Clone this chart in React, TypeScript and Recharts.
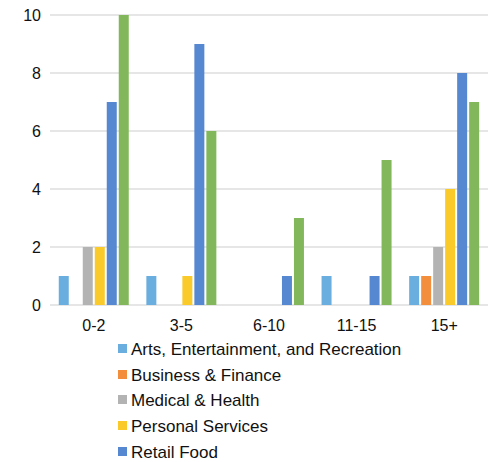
import { Bar, BarChart, CartesianGrid, Legend, XAxis, YAxis } from "recharts";

const CATEGORIES = ["0-2", "3-5", "6-10", "11-15", "15+"];
const ARTS = [1, 1, 0, 1, 1];
const BUSINESS = [0, 0, 0, 0, 1];
const MEDICAL = [2, 0, 0, 0, 2];
const PERSONAL = [2, 1, 0, 0, 4];
const RETAIL_FOOD = [7, 9, 1, 1, 8];
const OTHER = [10, 6, 3, 5, 7];
const Y_TICKS = [0, 2, 4, 6, 8, 10];

// the green series' legend entry falls below the visible area, so it is not listed
const SERIES = [
  { key: "Arts, Entertainment, and Recreation", values: ARTS, color: "#6aaddf", inLegend: true },
  { key: "Business & Finance", values: BUSINESS, color: "#f28e3c", inLegend: true },
  { key: "Medical & Health", values: MEDICAL, color: "#b3b3b3", inLegend: true },
  { key: "Personal Services", values: PERSONAL, color: "#fac92a", inLegend: true },
  { key: "Retail Food", values: RETAIL_FOOD, color: "#5687d1", inLegend: true },
  { key: "Other", values: OTHER, color: "#82b85b", inLegend: false },
];

const data = CATEGORIES.map((cat, i) => {
  const row: Record<string, string | number> = { cat };
  for (const s of SERIES) row[s.key] = s.values[i];
  return row;
});

const FONT = "'Liberation Sans', Arial, sans-serif";

function LegendList() {
  return (
    <div style={{ paddingLeft: 118, fontFamily: FONT, fontSize: 17, color: "#111" }}>
      {SERIES.filter((s) => s.inLegend).map((s) => (
        <div key={s.key} style={{ display: "flex", alignItems: "center", height: 25.8 }}>
          <span style={{ width: 9, height: 9, background: s.color, marginRight: 4, marginTop: -3, display: "inline-block" }} />
          <span>{s.key}</span>
        </div>
      ))}
    </div>
  );
}

export default function App() {
  return (
    <div>
      <style>{`body{margin:0}`}</style>
      <BarChart
        width={493}
        height={505}
        data={data}
        margin={{ top: 15, right: 5, left: 0, bottom: 0 }}
        barCategoryGap="10%"
        barGap={2}
      >
        <CartesianGrid stroke="#dedede" strokeWidth={1.5} vertical={false} />
        <XAxis
          dataKey="cat"
          height={32}
          axisLine={false}
          tickLine={false}
          tickSize={0}
          tickMargin={15}
          tick={{ fontSize: 16, fill: "#111", fontFamily: FONT }}
        />
        <YAxis
          width={50}
          domain={[0, 10]}
          ticks={Y_TICKS}
          axisLine={false}
          tickLine={false}
          tickSize={0}
          tickMargin={9}
          tick={{ fontSize: 16, fill: "#111", fontFamily: FONT }}
        />
        <Legend
          verticalAlign="bottom"
          wrapperStyle={{ left: 0, width: 493, height: 168 }}
          content={() => <LegendList />}
        />
        {SERIES.map((s) => (
          <Bar key={s.key} dataKey={s.key} fill={s.color} isAnimationActive={false} />
        ))}
      </BarChart>
    </div>
  );
}
